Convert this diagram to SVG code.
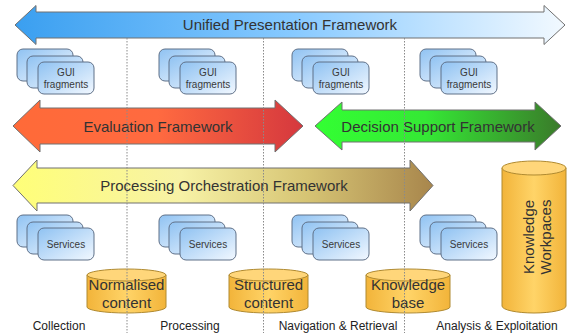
<svg xmlns="http://www.w3.org/2000/svg" xmlns:xlink="http://www.w3.org/1999/xlink" width="568" height="333" viewBox="0 0 568 333">
<style>
.arrow{stroke:#707070;stroke-width:1}
.alabel{font-family:"Liberation Sans",Arial,sans-serif;font-size:15px;fill:#333;text-anchor:middle}
.card{fill:url(#cardGrad);stroke:#5f7088;stroke-width:1}
.clabel{font-family:"Liberation Sans",Arial,sans-serif;font-size:10px;fill:#3a3a3a;text-anchor:middle}
.cyl{fill:url(#cylGrad);stroke:#b08a30;stroke-width:1}
.cyltop{fill:#ffd67a;stroke:#b08a30;stroke-width:1}
.dlabel{font-family:"Liberation Sans",Arial,sans-serif;font-size:15px;fill:#333;text-anchor:middle}
.sep{stroke:#8a8a8a;stroke-width:1;stroke-dasharray:1.5 1.5;fill:none}
.blabel{font-family:"Liberation Sans",Arial,sans-serif;font-size:12px;fill:#222;text-anchor:middle}
</style>
<defs>
<linearGradient id="gUnified" x1="0" y1="0" x2="1" y2="0">
<stop offset="0" stop-color="#3a9ff0"/><stop offset="0.5" stop-color="#86c9ff"/><stop offset="1" stop-color="#f2f9ff"/>
</linearGradient>
<linearGradient id="gEval" x1="0" y1="0" x2="1" y2="0">
<stop offset="0" stop-color="#ff6a38"/><stop offset="0.5" stop-color="#ff6a40"/><stop offset="1" stop-color="#d5383e"/>
</linearGradient>
<linearGradient id="gDec" x1="0" y1="0" x2="1" y2="0">
<stop offset="0" stop-color="#33ff33"/><stop offset="0.45" stop-color="#35e835"/><stop offset="1" stop-color="#3a7a2a"/>
</linearGradient>
<linearGradient id="gProc" x1="0" y1="0" x2="1" y2="0">
<stop offset="0" stop-color="#ffff78"/><stop offset="0.4" stop-color="#f7f2a6"/><stop offset="0.7" stop-color="#d6c474"/><stop offset="1" stop-color="#a8864c"/>
</linearGradient>
<linearGradient id="cardGrad" x1="0" y1="0" x2="1" y2="1">
<stop offset="0" stop-color="#8fc2f2"/><stop offset="1" stop-color="#f2f8ff"/>
</linearGradient>
<linearGradient id="cylGrad" x1="0" y1="0" x2="1" y2="0">
<stop offset="0" stop-color="#f2b43a"/><stop offset="0.5" stop-color="#ffd468"/><stop offset="1" stop-color="#f2b43a"/>
</linearGradient>
<g id="stack">
<rect class="card" x="0" y="0" width="56" height="32" rx="6"/>
<rect class="card" x="10" y="7" width="56" height="32" rx="6"/>
<rect class="card" x="21" y="13" width="56" height="32" rx="6"/>
</g>
</defs>

<g id="unified">
<path class="arrow" fill="url(#gUnified)" d="M15,25 L36,5.5 L36,12 L544,12 L544,5.5 L565,25 L544,44.5 L544,38 L36,38 L36,44.5 Z"/>
<text class="alabel" x="290" y="30">Unified Presentation Framework</text>
</g>
<g id="evaluation">
<path class="arrow" fill="url(#gEval)" d="M13,126 L40,100 L40,108 L275,108 L275,100 L303,126 L275,152 L275,144 L40,144 L40,152 Z"/>
<text class="alabel" x="158" y="131.5">Evaluation Framework</text>
</g>
<g id="decision">
<path class="arrow" fill="url(#gDec)" d="M315,126 L342,102 L342,110 L535,110 L535,102 L561,126 L535,150 L535,142 L342,142 L342,150 Z"/>
<text class="alabel" x="438" y="131.5">Decision Support Framework</text>
</g>
<g id="processing">
<path class="arrow" fill="url(#gProc)" d="M13,185.5 L37,160 L37,168 L410,168 L410,160 L433,185.5 L410,211 L410,203 L37,203 L37,211 Z"/>
<text class="alabel" x="224" y="191">Processing Orchestration Framework</text>
</g>

<g id="gui1" transform="translate(17,49)"><use xlink:href="#stack"/><text class="clabel" x="49" y="26.5">GUI</text><text class="clabel" x="49" y="39">fragments</text></g>
<g id="gui2" transform="translate(159,49)"><use xlink:href="#stack"/><text class="clabel" x="49" y="26.5">GUI</text><text class="clabel" x="49" y="39">fragments</text></g>
<g id="gui3" transform="translate(292,49)"><use xlink:href="#stack"/><text class="clabel" x="49" y="26.5">GUI</text><text class="clabel" x="49" y="39">fragments</text></g>
<g id="gui4" transform="translate(420,49)"><use xlink:href="#stack"/><text class="clabel" x="49" y="26.5">GUI</text><text class="clabel" x="49" y="39">fragments</text></g>

<g id="svc1" transform="translate(17,215)"><use xlink:href="#stack"/><text class="clabel" x="49" y="32.5">Services</text></g>
<g id="svc2" transform="translate(159,215)"><use xlink:href="#stack"/><text class="clabel" x="49" y="32.5">Services</text></g>
<g id="svc3" transform="translate(292,215)"><use xlink:href="#stack"/><text class="clabel" x="49" y="32.5">Services</text></g>
<g id="svc4" transform="translate(420,215)"><use xlink:href="#stack"/><text class="clabel" x="49" y="32.5">Services</text></g>

<g id="normalised">
<path class="cyl" d="M87,275 V307 A39.5,6 0 0 0 166,307 V275 Z"/>
<ellipse class="cyltop" cx="126.5" cy="275" rx="39.5" ry="6"/>
<text class="dlabel" x="126.5" y="290">Normalised</text>
<text class="dlabel" x="126.5" y="308">content</text>
</g>
<g id="structured">
<path class="cyl" d="M229,275 V307 A39.5,6 0 0 0 308,307 V275 Z"/>
<ellipse class="cyltop" cx="268.5" cy="275" rx="39.5" ry="6"/>
<text class="dlabel" x="268.5" y="290">Structured</text>
<text class="dlabel" x="268.5" y="308">content</text>
</g>
<g id="knowledgebase">
<path class="cyl" d="M366,275 V307 A42,6 0 0 0 450,307 V275 Z"/>
<ellipse class="cyltop" cx="408" cy="275" rx="42" ry="6"/>
<text class="dlabel" x="408" y="290">Knowledge</text>
<text class="dlabel" x="408" y="308">base</text>
</g>
<g id="workpaces">
<path class="cyl" d="M502,168 V306 A32,7 0 0 0 566,306 V168 Z"/>
<ellipse class="cyltop" cx="534" cy="168" rx="32" ry="7"/>
<text class="dlabel" transform="translate(534,237) rotate(-90)" x="0" y="0">Knowledge<tspan x="0" y="17">Workpaces</tspan></text>
</g>

<g id="connectors">
<line class="sep" x1="127" y1="38" x2="127" y2="333"/>
<line class="sep" x1="263.5" y1="38" x2="263.5" y2="333"/>
<line class="sep" x1="404.5" y1="38" x2="404.5" y2="333"/>
</g>

<g id="phases">
<text class="blabel" x="59" y="330">Collection</text>
<text class="blabel" x="190" y="330">Processing</text>
<text class="blabel" x="338" y="330">Navigation &amp; Retrieval</text>
<text class="blabel" x="497" y="330">Analysis &amp; Exploitation</text>
</g>
</svg>
